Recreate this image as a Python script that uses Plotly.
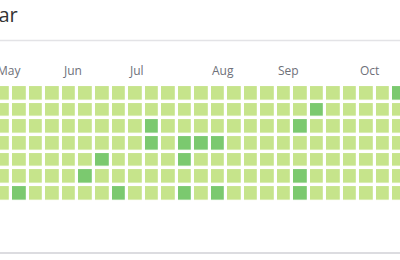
import datetime as dt
import plotly.graph_objects as go

# ---- data ----
year = 2019
title_text = "Year"
month_names = ["Jan", "Feb", "Mar", "Apr", "May", "Jun",
               "Jul", "Aug", "Sep", "Oct", "Nov", "Dec"]
level_names = ["low", "high"]
level_colors = ["#c6e48b", "#7bc96f"]
high_days = ["2019-05-19", "2019-06-15", "2019-06-21", "2019-06-30",
             "2019-07-10", "2019-07-11", "2019-07-25", "2019-07-26",
             "2019-07-28", "2019-08-01", "2019-08-08", "2019-08-11",
             "2019-09-11", "2019-09-14", "2019-09-15", "2019-09-17",
             "2019-10-21"]

# ---- build calendar grid (weeks x weekdays, Monday first) ----
start = dt.date(year, 1, 1)
end = dt.date(year, 12, 31)
origin = start - dt.timedelta(days=start.weekday())
n_weeks = (end - origin).days // 7 + 1
high_set = set(high_days)

z = [[None] * n_weeks for _ in range(7)]
text = [[""] * n_weeks for _ in range(7)]
d = start
while d <= end:
    w = (d - origin).days // 7
    r = d.weekday()
    z[r][w] = 2 if d.isoformat() in high_set else 1
    text[r][w] = d.isoformat()
    d += dt.timedelta(days=1)

fig = go.Figure(go.Heatmap(
    z=z, x=list(range(n_weeks)), y=list(range(7)), text=text,
    zmin=1, zmax=2,
    colorscale=[[0, level_colors[0]], [0.5, level_colors[0]],
                [0.5, level_colors[1]], [1, level_colors[1]]],
    xgap=3.2, ygap=3.35, showscale=False, hoverinfo="text",
))

x_range = [17.8105, 42.024]
px_per_week = 400 / (x_range[1] - x_range[0])

# month labels at first week starting in each month
annotations = []
for m in range(12):
    first = dt.date(year, m + 1, 1)
    w = -(-(first - origin).days // 7)
    annotations.append(dict(
        x=w, y=-1.38, xref="x", yref="y", text=month_names[m],
        xshift=-0.5 * px_per_week,
        showarrow=False, xanchor="left", yanchor="middle",
        font=dict(family="Open Sans, Noto Sans, sans-serif", size=12, color="#6E7079"),
    ))
annotations.append(dict(
    x=20 / 400, y=1 - 14 / 260, xref="paper", yref="paper", text=title_text,
    showarrow=False, xanchor="right", yanchor="middle",
    font=dict(family="Open Sans, Noto Sans, sans-serif", size=20, color="#333333"),
))

fig.update_layout(
    width=400, height=260, margin=dict(l=0, r=0, t=0, b=0),
    paper_bgcolor="white", plot_bgcolor="white",
    xaxis=dict(range=x_range, visible=False, fixedrange=True),
    yaxis=dict(range=[9.997, -5.600], visible=False, fixedrange=True),
    annotations=annotations,
    shapes=[
        dict(type="line", xref="paper", yref="paper", x0=0, x1=1,
             y0=1 - 40.5 / 260, y1=1 - 40.5 / 260,
             line=dict(color="#e3e3e6", width=1.5)),
        dict(type="line", xref="paper", yref="paper", x0=0, x1=1,
             y0=1 - 253 / 260, y1=1 - 253 / 260,
             line=dict(color="#dcdce0", width=2)),
    ],
    showlegend=False,
)

fig.write_html("out.html")
